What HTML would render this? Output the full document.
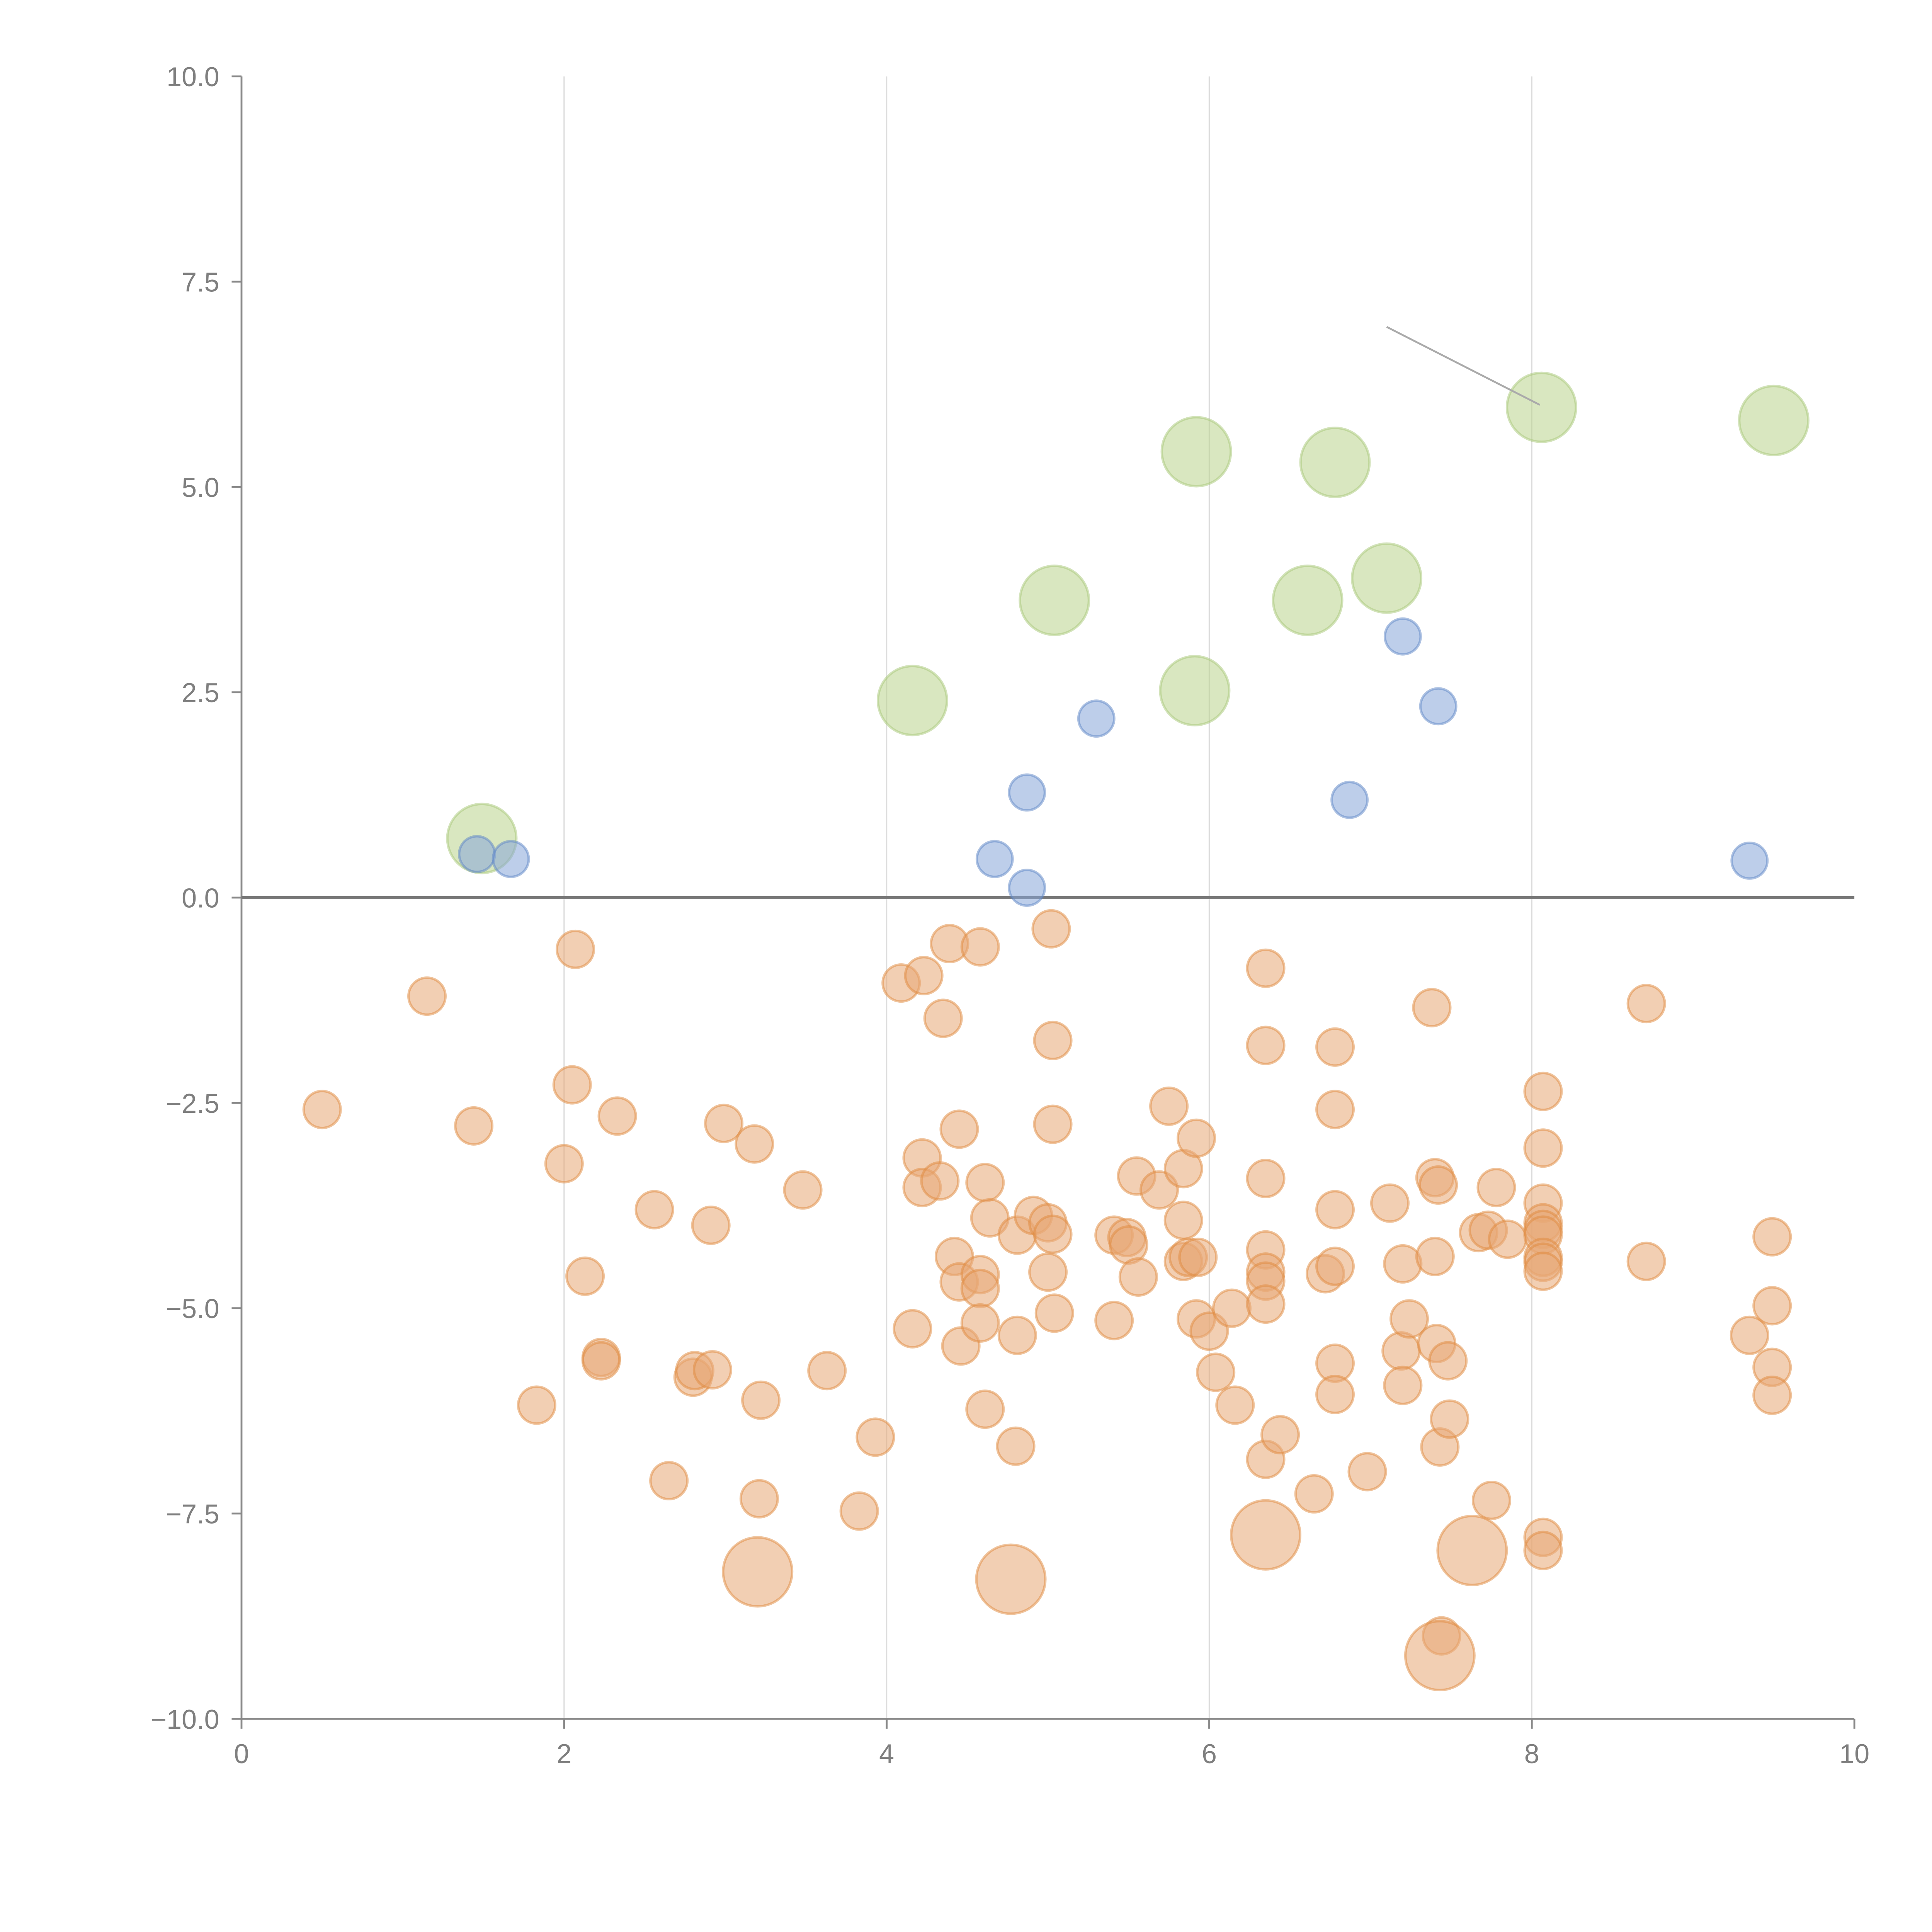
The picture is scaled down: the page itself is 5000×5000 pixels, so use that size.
<!DOCTYPE html>
<html><head><meta charset="utf-8"><style>
html,body{margin:0;padding:0;background:#fff;}
svg{display:block;}
text{font-family:"Liberation Sans",sans-serif;fill:#7f7f7f;font-size:22px;}
</style></head><body>
<svg id="chart" width="5000" height="5000" viewBox="0 0 1568 1568" xmlns="http://www.w3.org/2000/svg">
<g id="grid"></g>
<g id="axes"></g>
<g id="marks"></g>
</svg>
<script>
const xTicks=[0,2,4,6,8,10];
const yTicks=[10,7.5,5,2.5,0,-2.5,-5,-7.5,-10];
const yTickLabels=["10.0","7.5","5.0","2.5","0.0","\u22122.5","\u22125.0","\u22127.5","\u221210.0"];
const greenX=[1.49,4.16,5.04,5.91,5.92,6.61,6.78,7.10,8.06,9.50];
const greenY=[0.72,2.40,3.62,2.52,5.43,3.62,5.30,3.89,5.97,5.81];
const blueX=[1.46,1.67,4.67,4.87,4.87,5.30,6.87,7.20,7.42,9.35];
const blueY=[0.53,0.47,0.47,1.28,0.12,2.18,1.19,3.18,2.33,0.45];
const bigOrangeX=[3.20,4.77,6.35,7.63,7.43];
const bigOrangeY=[-8.21,-8.30,-7.76,-7.95,-9.23];
const orangeX=[0.50,1.15,1.44,1.83,2.00,2.05,2.07,2.13,2.23,2.23,2.33,2.56,2.65,2.80,2.81,2.91,2.92,2.99,3.18,3.21,3.22,3.48,3.63,3.83,3.93,4.09,4.16,4.22,4.22,4.23,4.33,4.35,4.39,4.42,4.45,4.45,4.46,4.58,4.58,4.58,4.58,4.61,4.61,4.64,4.80,4.81,4.81,4.91,5.00,5.00,5.02,5.03,5.03,5.03,5.04,5.41,5.41,5.49,5.50,5.55,5.56,5.69,5.75,5.84,5.84,5.84,5.87,5.92,5.92,5.93,6.00,6.04,6.14,6.16,6.35,6.35,6.35,6.35,6.35,6.35,6.35,6.35,6.44,6.65,6.72,6.78,6.78,6.78,6.78,6.78,6.78,6.98,7.12,7.20,7.19,7.20,7.24,7.38,7.40,7.40,7.41,7.42,7.43,7.44,7.48,7.49,7.67,7.73,7.75,7.78,7.85,8.07,8.07,8.07,8.07,8.07,8.07,8.07,8.07,8.07,8.07,8.07,8.71,8.71,9.35,9.49,9.49,9.49,9.49];
const orangeY=[-2.58,-1.20,-2.78,-6.18,-3.24,-2.28,-0.63,-4.61,-5.60,-5.64,-2.66,-3.80,-7.10,-5.84,-5.76,-3.99,-5.75,-2.75,-3.00,-7.32,-6.12,-3.56,-5.76,-7.47,-6.57,-1.04,-5.25,-3.17,-3.53,-0.95,-3.45,-1.47,-0.56,-4.37,-2.82,-4.68,-5.46,-4.59,-4.76,-5.18,-0.60,-3.47,-6.23,-3.90,-6.68,-4.11,-5.33,-3.87,-4.56,-3.96,-0.38,-1.74,-2.76,-4.10,-5.06,-4.11,-5.15,-4.14,-4.23,-3.39,-4.62,-3.56,-2.54,-3.30,-4.43,-3.93,-4.38,-2.93,-5.13,-4.38,-5.28,-5.78,-5.00,-6.18,-0.86,-1.80,-3.42,-4.29,-4.56,-4.67,-4.95,-6.84,-6.54,-7.26,-4.58,-5.67,-6.05,-1.82,-2.58,-3.80,-4.49,-6.99,-3.72,-4.46,-5.52,-5.94,-5.13,-1.34,-3.41,-4.37,-5.43,-3.50,-6.69,-8.99,-5.64,-6.35,-4.08,-4.05,-7.34,-3.53,-4.16,-2.36,-3.05,-3.72,-3.96,-4.04,-4.11,-4.38,-4.44,-4.55,-7.79,-7.95,-1.29,-4.43,-5.33,-4.13,-4.97,-5.72,-6.06];
const annotX=[7.10,8.05];
const annotY=[6.95,6.0];

const NS="http://www.w3.org/2000/svg";
const X0=196,X1=1505,Y0=1395,Y1=62;
function sx(v){return X0+(v-0)/(10-0)*(X1-X0);}
function sy(v){return Y0-(v+10)/20*(Y0-Y1);}
function mk(tag,attrs,parent){const e=document.createElementNS(NS,tag);for(const k in attrs)e.setAttribute(k,attrs[k]);parent.appendChild(e);return e;}
const grid=document.getElementById('grid'),axes=document.getElementById('axes'),marks=document.getElementById('marks');

xTicks.forEach(t=>{
  if(t>0&&t<10){const g=mk('line',{x1:sx(t),x2:sx(t),y1:Y1,y2:Y0,stroke:'#dcdcdc','stroke-width':1},grid);
  
  }
  const tk=mk('line',{x1:sx(t),x2:sx(t),y1:Y0,y2:Y0+8,stroke:'#888','stroke-width':1.5},axes);
  
  
  const tx=mk('text',{x:sx(t),y:Y0+36,'text-anchor':'middle'},axes);tx.textContent=String(t);
  
  
});
yTicks.forEach((t,i)=>{
  const tk=mk('line',{x1:X0-8,x2:X0,y1:sy(t),y2:sy(t),stroke:'#888','stroke-width':1.5},axes);
  
  
  const tx=mk('text',{x:X0-18,y:sy(t)+8,'text-anchor':'end'},axes);tx.textContent=yTickLabels[i];
  
  
});
const ya=mk('line',{x1:X0,x2:X0,y1:Y1,y2:Y0,stroke:'#888','stroke-width':1.5},axes);


const xa=mk('line',{x1:X0,x2:X1,y1:Y0,y2:Y0,stroke:'#888','stroke-width':1.5},axes);


const zl=mk('line',{x1:X0,x2:X1,y1:sy(0),y2:sy(0),stroke:'#777','stroke-width':2.5},axes);



function series(xs,ys,r,fill,stroke,name){
  xs.forEach((x,i)=>{
    const c=mk('circle',{cx:sx(x),cy:sy(ys[i]),r:r,fill:fill,'fill-opacity':0.55,stroke:stroke,'stroke-opacity':0.5,'stroke-width':2},marks);
    
    
  });
}
series(orangeX,orangeY,15,'#e8a874','#e08a3e','orange-point');
series(bigOrangeX,bigOrangeY,28,'#e8a874','#e08a3e','orange-large-point');
series(greenX,greenY,28,'#b9d48c','#a8c878','green-point');
series(blueX,blueY,14.5,'#86a6d8','#5d86c6','blue-point');

const al=mk('line',{x1:sx(annotX[0]),y1:sy(annotY[0]),x2:sx(annotX[1]),y2:sy(annotY[1]),stroke:'#aaa','stroke-width':1.5},marks);


</script>
</body></html>
